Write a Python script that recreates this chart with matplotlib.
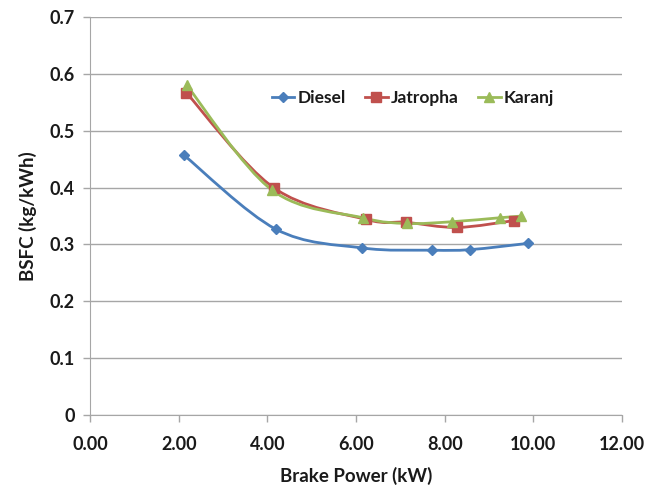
import numpy as np
import matplotlib
matplotlib.use('Agg')
import matplotlib.pyplot as plt
from matplotlib.path import Path
from matplotlib.patches import PathPatch

# Values
diesel_x = [2.12, 4.19, 6.13, 7.71, 8.58, 9.88]
diesel_y = [0.457, 0.327, 0.294, 0.290, 0.291, 0.302]

jatropha_x = [2.17, 4.14, 6.23, 7.13, 8.28, 9.56]
jatropha_y = [0.567, 0.400, 0.344, 0.339, 0.330, 0.342]

karanj_x = [2.18, 4.10, 6.15, 7.15, 8.16, 9.24, 9.73]
karanj_y = [0.580, 0.396, 0.347, 0.337, 0.340, 0.347, 0.350]

xticks = [0, 2, 4, 6, 8, 10, 12]
yticks = [0, 0.1, 0.2, 0.3, 0.4, 0.5, 0.6, 0.7]

plt.rcParams['font.family'] = ['Lato', 'DejaVu Sans']
plt.rcParams['font.weight'] = 'bold'


def smooth_path(xs, ys):
    # Catmull-Rom style bezier, like Excel's "smoothed line"
    pts = np.column_stack([xs, ys])
    n = len(pts)
    verts = [pts[0]]
    codes = [Path.MOVETO]
    for i in range(n - 1):
        p0 = pts[i - 1] if i > 0 else pts[i]
        p1 = pts[i]
        p2 = pts[i + 1]
        p3 = pts[i + 2] if i + 2 < n else pts[i + 1]
        c1 = p1 + (p2 - p0) / 6.0
        c2 = p2 - (p3 - p1) / 6.0
        verts += [c1, c2, p2]
        codes += [Path.CURVE4] * 3
    return Path(verts, codes)


fig = plt.figure(figsize=(6.5, 4.93), dpi=100)
ax = fig.add_axes([0.1385, 0.158, 0.8185, 0.8075])

series = [
    ('Diesel', diesel_x, diesel_y, '#4A7EBB', 'D', 5),
    ('Jatropha', jatropha_x, jatropha_y, '#C0504D', 's', 7),
    ('Karanj', karanj_x, karanj_y, '#9BBB59', '^', 7.5),
]
for name, xs, ys, col, mk, ms in series:
    ax.add_patch(PathPatch(smooth_path(xs, ys), facecolor='none',
                           edgecolor=col, lw=2, zorder=3))
    ax.plot(xs, ys, linestyle='none', marker=mk, ms=ms, color=col, zorder=4)
    # proxy for the legend
    ax.plot([], [], color=col, lw=2, marker=mk, ms=ms, label=name)

ax.set_xlim(0, 12)
ax.set_ylim(0, 0.7)
ax.set_xticks(xticks)
ax.set_xticklabels(['%.2f' % v for v in xticks])
ax.set_yticks(yticks)
ax.set_yticklabels(['0'] + ['%.1f' % v for v in yticks[1:]])

ax.yaxis.grid(True, color='#A6A6A6', lw=1)
ax.set_axisbelow(True)
for s in ['top', 'right']:
    ax.spines[s].set_visible(False)
for s in ['left', 'bottom']:
    ax.spines[s].set_color('#A6A6A6')
ax.tick_params(axis='both', colors='#A6A6A6', length=5, width=1,
               labelcolor='#1a1a1a', labelsize=13)
ax.tick_params(axis='x', pad=10)
ax.tick_params(axis='y', pad=6)

ax.set_xlabel('Brake Power (kW)', fontsize=13.5, fontweight='bold',
              color='#1a1a1a', labelpad=10)
ax.set_ylabel('BSFC (kg/kWh)', fontsize=13.5, fontweight='bold',
              color='#1a1a1a', labelpad=9)

leg = ax.legend(loc='center', bbox_to_anchor=(0.607, 0.797), ncol=3,
                frameon=False, fontsize=12.5, handlelength=1.3,
                columnspacing=1.1, handletextpad=0.2)
for t in leg.get_texts():
    t.set_color('#1a1a1a')

fig.savefig('out.png', dpi=100)
